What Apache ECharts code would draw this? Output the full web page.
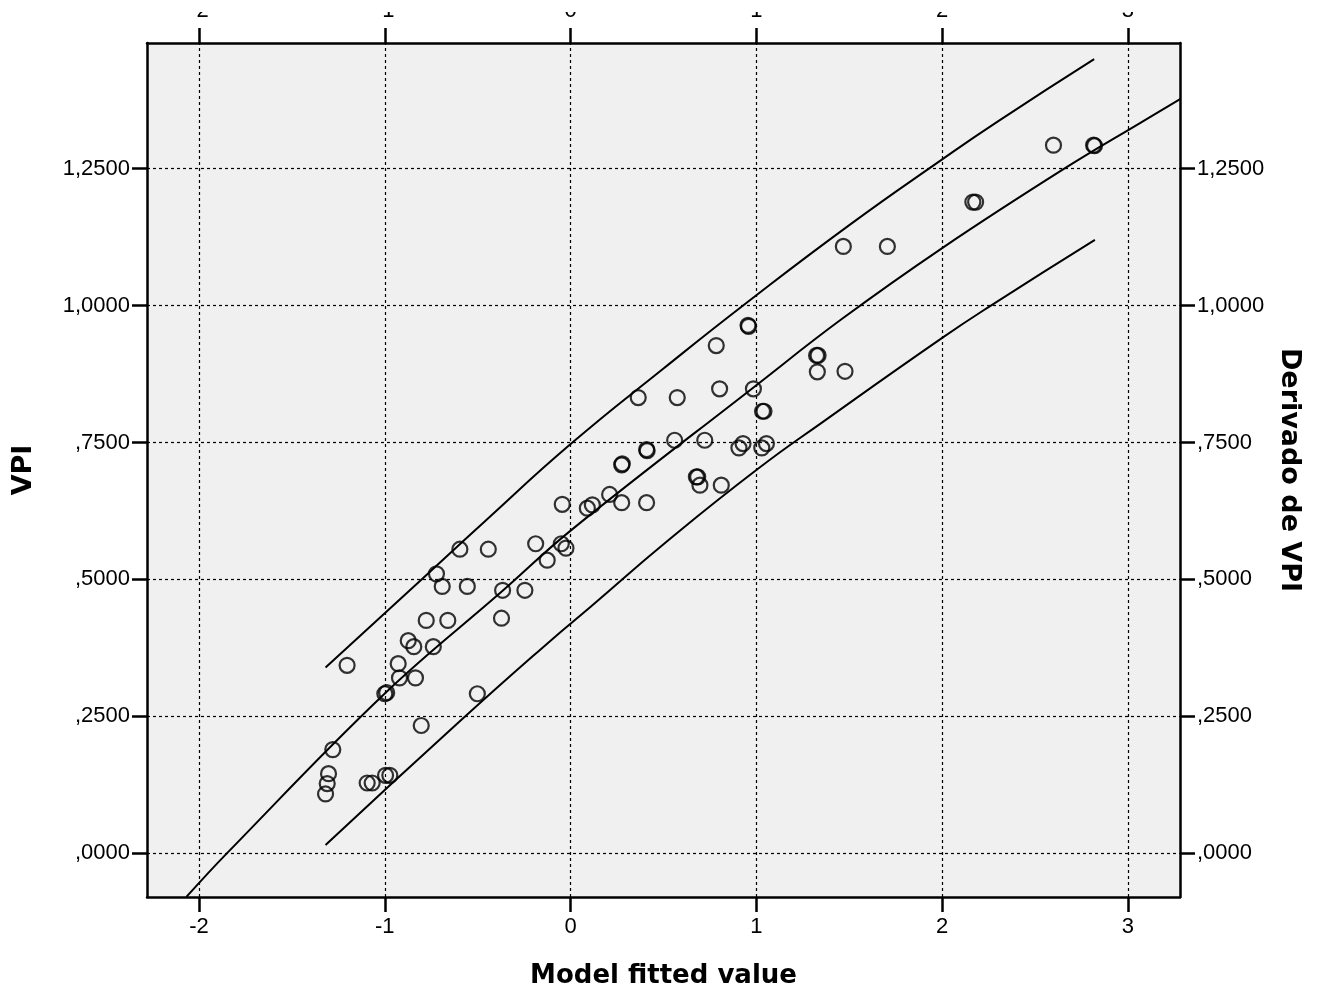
<!DOCTYPE html>
<html><head><meta charset="utf-8">
<script src="https://cdn.jsdelivr.net/npm/echarts@6/dist/echarts.min.js"></script>
<style>html,body{margin:0;padding:0;background:#fff}#c{width:1322px;height:995px}</style>
</head><body><div id="c"></div>
<script>
const xTicks = [-2, -1, 0, 1, 2, 3];
const xTickLabels = ['-2', '-1', '0', '1', '2', '3'];
const yTicks = [0, 0.25, 0.5, 0.75, 1.0, 1.25];
const yTickLabels = [',0000', ',2500', ',5000', ',7500', '1,0000', '1,2500'];

// observed points: [model fitted value, VPI]
const observed = [
  [-1.319,0.108],[-1.310,0.127],[-1.303,0.145],[-1.280,0.189],
  [-1.095,0.128],[-1.068,0.128],[-0.996,0.142],[-0.973,0.142],
  [-0.804,0.233],[-0.502,0.291],[-1.000,0.291],[-0.990,0.293],
  [-1.203,0.343],[-0.928,0.346],[-0.921,0.320],[-0.835,0.320],
  [-0.874,0.388],[-0.844,0.377],[-0.739,0.377],[-0.777,0.425],[-0.661,0.425],
  [-0.722,0.510],[-0.691,0.487],[-0.556,0.487],[-0.596,0.555],[-0.443,0.555],
  [-0.372,0.429],[-0.366,0.480],[-0.246,0.480],[-0.126,0.535],[-0.188,0.565],
  [-0.050,0.565],[-0.025,0.557],
  [-0.045,0.637],[0.090,0.630],[0.117,0.636],[0.210,0.655],[0.275,0.640],[0.409,0.640],
  [0.275,0.709],[0.278,0.711],[0.409,0.737],[0.412,0.735],[0.560,0.754],[0.722,0.754],
  [0.364,0.832],[0.574,0.832],[0.802,0.848],[0.984,0.848],[0.784,0.927],[0.955,0.964],[0.958,0.962],
  [0.677,0.687],[0.684,0.687],[0.696,0.672],[0.811,0.672],
  [0.906,0.740],[0.928,0.748],[1.029,0.740],[1.054,0.748],
  [1.033,0.807],[1.041,0.807],
  [1.324,0.909],[1.332,0.909],[1.328,0.879],[1.477,0.880],
  [1.468,1.108],[1.705,1.108],[2.165,1.189],[2.180,1.189],[2.599,1.293],[2.815,1.293],[2.820,1.292]
];

// fitted curve and prediction bounds
const fitLine = [
  [-2.068,-0.080],[-1.849,0.000],[-1.000,0.2915],[-0.366,0.479],[0.000,0.589],
  [1.005,0.856],[1.454,0.974],[2.000,1.105],[2.657,1.250],[3.078,1.336],[3.285,1.378]
];
const upperBand = [
  [-1.319,0.339],[-0.808,0.498],[-0.458,0.607],[0.000,0.747],[0.500,0.885],[0.951,1.006],
  [1.500,1.147],[2.000,1.267],[2.298,1.336],[2.818,1.450]
];
const lowerBand = [
  [-1.319,0.0146],[-0.592,0.242],[-0.108,0.388],[0.108,0.450],[0.521,0.570],
  [1.005,0.701],[1.364,0.789],[2.000,0.941],[2.262,1.000],[2.822,1.120]
];

const labelFont = {color:'#000', fontFamily:'"Liberation Sans", Arial, sans-serif', fontSize:22};
const titleFont = {color:'#000', fontFamily:'"DejaVu Sans", sans-serif', fontWeight:'bold', fontSize:26};
const yTitleFont = Object.assign({}, titleFont, {fontSize:27});
function lookup(vals, labels){
  return v => { const i = vals.findIndex(t => Math.abs(t - v) < 1e-9); return i >= 0 ? labels[i] : ''; };
}
const axisLineStyle = {show:true, onZero:false, lineStyle:{color:'#000', width:2.5}};
const tickStyle = {show:true, length:15, lineStyle:{color:'#000', width:2.5}};

function xAx(pos, withName){
  return {
    type:'value', position:pos, min:-2.28, max:3.28,
    name: withName ? 'Model fitted value' : '', nameLocation:'middle', nameGap:66, nameTextStyle:titleFont,
    axisLine:axisLineStyle,
    axisTick:Object.assign({customValues:xTicks}, tickStyle),
    axisLabel:Object.assign({customValues:xTicks, margin: pos==='top'?21:19, formatter:lookup(xTicks,xTickLabels)}, labelFont),
    splitLine:{show:false}
  };
}
function yAx(pos, name, rot, gap){
  return {
    type:'value', position:pos, min:-0.0802, max:1.4796,
    name:name, nameLocation:'middle', nameRotate:rot, nameGap:gap, nameTextStyle:yTitleFont,
    axisLine:axisLineStyle,
    axisTick:Object.assign({customValues:yTicks}, tickStyle),
    axisLabel:Object.assign({customValues:yTicks, margin:17, formatter:lookup(yTicks,yTickLabels)}, labelFont),
    splitLine:{show:false}
  };
}

const chart = echarts.init(document.getElementById('c'), null, {renderer:'canvas'});
chart.setOption({
  animation:false,
  backgroundColor:'#fff',
  grid:{left:147, right:142, top:41, bottom:98, show:true, backgroundColor:'#f0f0f0', borderWidth:0},
  xAxis:[xAx('bottom', true), xAx('top', false)],
  yAxis:[yAx('left','VPI',90,110), yAx('right','Derivado de VPI',-90,85)],
  series:[
    {type:'line', data:fitLine, showSymbol:false, smooth:0.4, z:2,
     lineStyle:{color:'#000', width:2},
     markLine:{silent:true, symbol:['none','none'], label:{show:false},
       lineStyle:{color:'#000', type:[3,3], width:1.2},
       data:[...xTicks.map(v=>({xAxis:v})), ...yTicks.map(v=>({yAxis:v}))]}},
    {type:'line', data:upperBand, showSymbol:false, smooth:0.5, z:2, lineStyle:{color:'#000', width:2}},
    {type:'line', data:lowerBand, showSymbol:false, smooth:0.5, z:2, lineStyle:{color:'#000', width:2}},
    {type:'scatter', data:observed, symbol:'circle', symbolSize:15, z:3,
     itemStyle:{color:'rgba(0,0,0,0)', borderColor:'#000', borderWidth:2.2}}
  ],
  graphic:[{type:'rect', z:100, shape:{x:0, y:0, width:1322, height:12}, style:{fill:'#fff'}}]
});
</script></body></html>
